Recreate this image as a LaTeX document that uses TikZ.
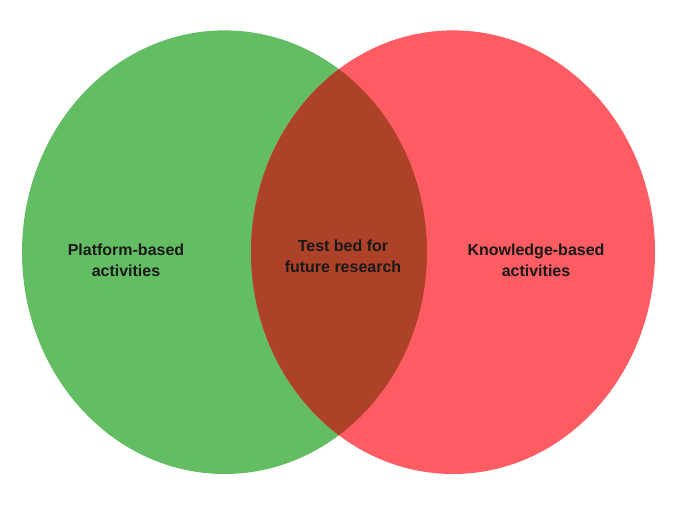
\documentclass[tikz,border=0pt]{standalone}
\usepackage{fontspec}
\setmainfont{Liberation Sans}
\definecolor{vgreen}{RGB}{99,190,99}
\definecolor{vred}{RGB}{253,92,99}
\definecolor{vmix}{RGB}{174,66,40}
\begin{document}
\begin{tikzpicture}[x=1pt,y=1pt,
  lbl/.style={align=center,font=\bfseries\fontsize{16}{21}\selectfont,text=black!90}]
\useasboundingbox (0,0) rectangle (690,510);
\fill[white] (0,0) rectangle (690,510);
\coordinate (gc) at (224.5,257.8);
\coordinate (rc) at (453,257.8);
\fill[vgreen] (gc) ellipse [x radius=202.5, y radius=221.8];
\fill[vred] (rc) ellipse [x radius=202, y radius=221.8];
\begin{scope}
  \clip (gc) ellipse [x radius=202.5, y radius=221.8];
  \fill[vmix] (rc) ellipse [x radius=202, y radius=221.8];
\end{scope}
\node[lbl] (pb) at (126,250) {Platform-based\\activities};
\node[lbl] (tb) at (343,254) {Test bed for\\future research};
\node[lbl] (kb) at (536,250) {Knowledge-based\\activities};
\end{tikzpicture}
\end{document}
